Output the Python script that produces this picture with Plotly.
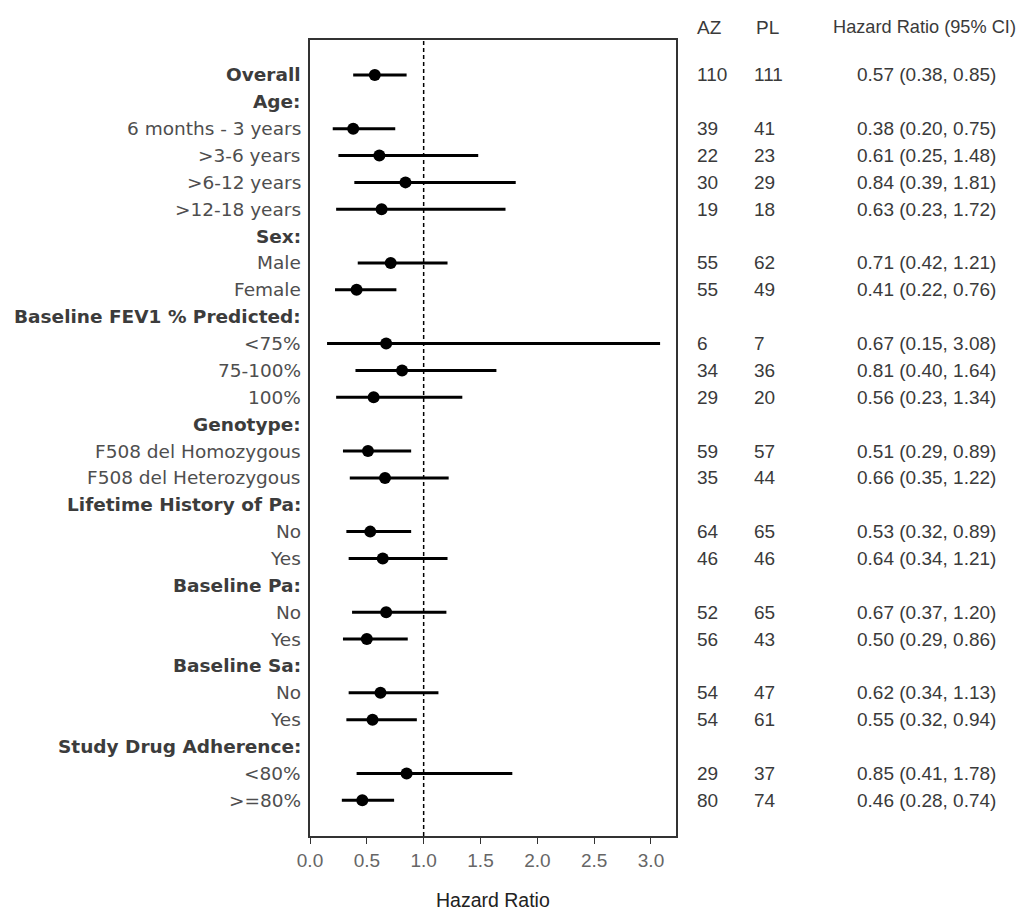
import plotly.graph_objects as go

# ---- data ----
labels = ["Overall", "Age:", "6 months - 3 years", ">3-6 years", ">6-12 years", ">12-18 years",
          "Sex:", "Male", "Female", "Baseline FEV1 % Predicted:", "<75%", "75-100%", "100%",
          "Genotype:", "F508 del Homozygous", "F508 del Heterozygous", "Lifetime History of Pa:",
          "No", "Yes", "Baseline Pa:", "No", "Yes", "Baseline Sa:", "No", "Yes",
          "Study Drug Adherence:", "<80%", ">=80%"]
is_header = [True, True, False, False, False, False, True, False, False, True, False, False, False,
             True, False, False, True, False, False, True, False, False, True, False, False,
             True, False, False]
hr = [0.57, None, 0.38, 0.61, 0.84, 0.63, None, 0.71, 0.41, None, 0.67, 0.81, 0.56, None, 0.51, 0.66,
      None, 0.53, 0.64, None, 0.67, 0.50, None, 0.62, 0.55, None, 0.85, 0.46]
ci_low = [0.38, None, 0.20, 0.25, 0.39, 0.23, None, 0.42, 0.22, None, 0.15, 0.40, 0.23, None, 0.29, 0.35,
          None, 0.32, 0.34, None, 0.37, 0.29, None, 0.34, 0.32, None, 0.41, 0.28]
ci_high = [0.85, None, 0.75, 1.48, 1.81, 1.72, None, 1.21, 0.76, None, 3.08, 1.64, 1.34, None, 0.89, 1.22,
           None, 0.89, 1.21, None, 1.20, 0.86, None, 1.13, 0.94, None, 1.78, 0.74]
n_az = [110, None, 39, 22, 30, 19, None, 55, 55, None, 6, 34, 29, None, 59, 35, None, 64, 46, None,
        52, 56, None, 54, 54, None, 29, 80]
n_pl = [111, None, 41, 23, 29, 18, None, 62, 49, None, 7, 36, 20, None, 57, 44, None, 65, 46, None,
        65, 43, None, 47, 61, None, 37, 74]
x_ticks = [0.0, 0.5, 1.0, 1.5, 2.0, 2.5, 3.0]
x_tick_labels = ["0.0", "0.5", "1.0", "1.5", "2.0", "2.5", "3.0"]
col_headers = ["AZ", "PL", "Hazard Ratio (95% CI)"]
x_title = "Hazard Ratio"

rows = list(range(len(labels)))

# ---- figure ----
fig = go.Figure()

idx = [i for i in rows if hr[i] is not None]
fig.add_trace(go.Scatter(
    x=[hr[i] for i in idx],
    y=idx,
    mode="markers",
    marker=dict(color="black", size=12, symbol="circle"),
    error_x=dict(type="data", symmetric=False,
                 array=[ci_high[i] - hr[i] for i in idx],
                 arrayminus=[hr[i] - ci_low[i] for i in idx],
                 color="black", thickness=3, width=0),
    showlegend=False, hoverinfo="skip",
))

OFF = 8  # page body margin
W, H = 1024 - OFF, 910 - OFF
# target screen-pixel plot box: left 310, right 676, top 40, bottom 836
L = 310 - OFF
T = 40 - OFF
R = W - (676 - OFF)
B = H - (836 - OFF)
pw = W - L - R
ph = H - T - B

def px_x(screen_px):
    return (screen_px - OFF - L) / pw

def px_y(screen_py):
    return ((836) - screen_py) / ph

annotations = []
label_font = "DejaVu Sans, Verdana, sans-serif"
num_font = "Liberation Sans, Arial, sans-serif"
for i in rows:
    txt = f"<b>{labels[i]}</b>" if is_header[i] else labels[i]
    annotations.append(dict(
        x=px_x(303), xref="paper", y=i, yref="y", text=txt, showarrow=False,
        xanchor="right", yanchor="middle",
        font=dict(family=label_font, size=18.5, color="#3c3c3c" if is_header[i] else "#4e4e4e")))
    if n_az[i] is not None:
        annotations.append(dict(x=px_x(695), xref="paper", y=i, yref="y", text=str(n_az[i]),
                                showarrow=False, xanchor="left", yanchor="middle",
                                font=dict(family=num_font, size=19, color="#3a3a3a")))
        annotations.append(dict(x=px_x(752), xref="paper", y=i, yref="y", text=str(n_pl[i]),
                                showarrow=False, xanchor="left", yanchor="middle",
                                font=dict(family=num_font, size=19, color="#3a3a3a")))
        annotations.append(dict(x=px_x(855), xref="paper", y=i, yref="y",
                                text=f"{hr[i]:.2f} ({ci_low[i]:.2f}, {ci_high[i]:.2f})",
                                showarrow=False, xanchor="left", yanchor="middle",
                                font=dict(family=num_font, size=19, color="#3a3a3a")))

for xpx, anchor, size, txt in zip([695, 754, 1018], ["left", "left", "right"], [19, 19, 18.2],
                                  col_headers):
    annotations.append(dict(x=px_x(xpx), xref="paper", y=px_y(27), yref="paper", text=txt,
                            showarrow=False, xanchor=anchor, yanchor="middle",
                            font=dict(family=num_font, size=size, color="#3a3a3a")))

annotations.append(dict(x=0.5, xref="paper", y=px_y(900), yref="paper", text=x_title,
                        showarrow=False, xanchor="center", yanchor="middle",
                        font=dict(family=num_font, size=19.5, color="#222222")))

fig.add_shape(type="line", x0=1.0, x1=1.0, xref="x", y0=0, y1=1, yref="paper",
              line=dict(color="black", width=1.5, dash="4px,3px"))

fig.update_layout(
    width=W, height=H,
    margin=dict(l=L, r=R, t=T, b=B),
    paper_bgcolor="white", plot_bgcolor="white",
    annotations=annotations,
    xaxis=dict(range=[0, 3.22], tickvals=x_ticks, ticktext=x_tick_labels,
               ticks="outside", ticklen=6, tickwidth=1.2, tickcolor="#333333",
               showgrid=False, zeroline=False, showline=True, mirror=True,
               linecolor="#333333", linewidth=1.5,
               tickfont=dict(family=num_font, size=19, color="#666666")),
    yaxis=dict(range=[28.33, -1.3], showticklabels=False, ticks="", showgrid=False,
               zeroline=False, showline=True, mirror=True, linecolor="#333333", linewidth=1.5),
)

fig.write_html("out.html")
